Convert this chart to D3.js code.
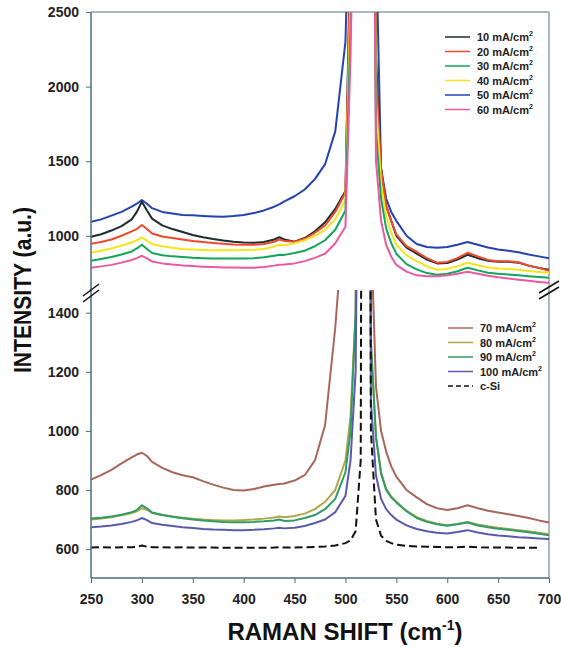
<!DOCTYPE html>
<html>
<head>
<meta charset="utf-8">
<script src="https://cdn.jsdelivr.net/npm/d3@7"></script>
<style>
  body { margin: 0; background: #fff; }
  svg { font-family: "Liberation Sans", Arial, sans-serif; }
  .tick text { font-size: 14px; font-weight: bold; fill: #222; }
  .tick line { stroke: #4f6d7a; }
</style>
</head>
<body>
<svg id="chart" width="561" height="647"></svg>
<script>
// raman shift grid (cm-1), shared by every spectrum
const shift = [250, 260, 270, 280, 290, 295, 300, 305, 310, 320, 330, 340, 350, 360, 370, 380, 390, 400,
  410, 420, 430, 435, 440, 450, 460, 470, 480, 490, 500, 505, 510, 515, 520, 525, 530, 535, 540, 545, 550,
  560, 570, 580, 590, 600, 610, 620, 630, 640, 650, 660, 670, 680, 690, 700];

// upper panel (10 - 60 mA/cm2)
const i10 = [993, 1010, 1035, 1065, 1110, 1160, 1228, 1170, 1115, 1070, 1045, 1025, 1005, 990, 978, 968, 960, 955,
  953, 958, 975, 990, 975, 960, 985, 1030, 1090, 1180, 1300, 3000, 5000, 7000, 9000, 6000, 2200, 1450, 1200, 1100, 1000,
  920, 880, 840, 815, 818, 840, 873, 850, 832, 826, 826, 820, 800, 785, 772];
const i20 = [946, 958, 975, 1000, 1030, 1045, 1072, 1045, 1015, 995, 985, 975, 965, 958, 952, 946, 942, 940,
  940, 945, 960, 975, 965, 960, 980, 1020, 1070, 1160, 1290, 2900, 5000, 7000, 9000, 6000, 2100, 1450, 1200, 1100, 1010,
  930, 893, 850, 820, 825, 850, 886, 862, 838, 830, 830, 823, 800, 785, 766];
const i30 = [833, 845, 858, 875, 895, 915, 940, 912, 885, 870, 862, 857, 852, 850, 848, 847, 847, 848,
  850, 856, 866, 873, 872, 885, 900, 930, 970, 1040, 1170, 2400, 4500, 7000, 9000, 6000, 1700, 1250, 1050, 950, 880,
  810, 775, 750, 739, 745, 762, 786, 768, 752, 745, 740, 735, 729, 724, 719];
const i40 = [886, 900, 915, 935, 955, 970, 987, 968, 945, 930, 920, 912, 908, 905, 903, 903, 903, 905,
  907, 912, 928, 940, 937, 950, 970, 1000, 1040, 1110, 1240, 2600, 4800, 7000, 9000, 6000, 1900, 1350, 1130, 1020, 940,
  870, 830, 795, 772, 778, 795, 819, 802, 788, 780, 778, 772, 764, 758, 752];
const i50 = [1094, 1110, 1135, 1160, 1195, 1215, 1240, 1215, 1185, 1160, 1150, 1140, 1137, 1133, 1130, 1128, 1132, 1140,
  1152, 1170, 1195, 1210, 1230, 1265, 1310, 1380, 1480, 1700, 2300, 3500, 5500, 7000, 9000, 6000, 3000, 1450, 1250, 1160, 1100,
  1000, 945, 925, 920, 925, 940, 958, 940, 922, 908, 900, 890, 875, 862, 850];
const i60 = [786, 795, 805, 820, 838, 850, 866, 848, 828, 815, 807, 801, 797, 793, 790, 788, 787, 786,
  786, 790, 800, 806, 808, 815, 830, 852, 880, 950, 1060, 2200, 4000, 7000, 9000, 6000, 1500, 1100, 940, 860, 805,
  760, 735, 728, 728, 735, 745, 759, 745, 732, 722, 713, 706, 698, 691, 685];

// lower panel (70 - 100 mA/cm2 and c-Si reference)
const i70 = [835, 850, 868, 890, 910, 920, 926, 915, 895, 875, 860, 850, 843, 830, 818, 808, 800, 798,
  803, 812, 818, 820, 822, 832, 850, 900, 1020, 1350, 1800, 2500, 4000, 6000, 8000, 1700, 1150, 1000, 930, 880, 845,
  800, 775, 752, 738, 732, 738, 748, 738, 730, 724, 718, 712, 705, 697, 690];
const i80 = [700, 703, 708, 714, 722, 728, 738, 733, 722, 715, 710, 706, 703, 700, 698, 697, 697, 698,
  700, 703, 707, 710, 708, 712, 720, 735, 760, 800, 900, 1050, 1400, 4000, 8000, 1300, 980, 860, 805, 778, 760,
  730, 708, 695, 686, 681, 685, 692, 683, 677, 672, 668, 664, 660, 655, 650];
const i90 = [703, 706, 710, 716, 725, 732, 748, 738, 724, 715, 709, 704, 700, 697, 694, 692, 691, 691,
  692, 694, 697, 700, 695, 697, 705, 715, 735, 770, 860, 1000, 1400, 4000, 8000, 1300, 980, 855, 800, 775, 758,
  728, 705, 692, 684, 679, 684, 690, 680, 674, 669, 665, 661, 657, 652, 647];
const i100 = [674, 676, 680, 685, 692, 697, 705, 698, 688, 682, 678, 674, 671, 668, 666, 665, 664, 664,
  665, 667, 670, 672, 670, 672, 678, 688, 700, 725, 780, 900, 1200, 3000, 8000, 1100, 850, 770, 735, 715, 700,
  680, 668, 660, 655, 653, 658, 664, 656, 650, 646, 643, 640, 638, 636, 634];
const iSi = [605, 606, 605, 606, 606, 607, 612, 608, 606, 606, 605, 606, 605, 605, 605, 604, 604, 604,
  604, 604, 605, 606, 605, 605, 606, 607, 609, 612, 620, 630, 660, 900, 8000, 1000, 700, 645, 628, 620, 615,
  611, 609, 608, 607, 606, 606, 608, 606, 605, 605, 605, 604, 604, 604, null];

const upperLabels = ['10 mA/cm', '20 mA/cm', '30 mA/cm', '40 mA/cm', '50 mA/cm', '60 mA/cm'];
const upperColors = ['#1d2b33', '#f0492c', '#13a55a', '#f3e520', '#2443b0', '#ea5aa0'];
const lowerLabels = ['70 mA/cm', '80 mA/cm', '90 mA/cm', '100 mA/cm', 'c-Si'];
const lowerColors = ['#a8675a', '#b3a548', '#2f9c66', '#5a5aab', '#111'];

const upperTicks = [1000, 1500, 2000, 2500];
const lowerTicks = [600, 800, 1000, 1200, 1400];
const xTicks = [250, 300, 350, 400, 450, 500, 550, 600, 650, 700];

const svg = d3.select('#chart');
const pLeft = 91, pRight = 549, pTop = 12, pBottom = 578;
const breakTop = 288, breakBottom = 290;

let x = d3.scaleLinear().domain([250, 700]).range([pLeft, pRight]);
let yUp = d3.scaleLinear().domain([650, 2500]).range([breakTop, pTop]);
let yLow = d3.scaleLinear().domain([502, 1477]).range([pBottom, breakBottom]);

// clip regions for the two panels
let defs = svg.append('defs');
defs.append('clipPath').attr('id', 'clipUp').append('rect')
  .attr('x', pLeft).attr('y', pTop).attr('width', pRight - pLeft).attr('height', breakTop - pTop);
defs.append('clipPath').attr('id', 'clipLow').append('rect')
  .attr('x', pLeft).attr('y', breakBottom).attr('width', pRight - pLeft).attr('height', pBottom - breakBottom);

// frame
svg.append('line').attr('x1', pLeft).attr('x2', pRight).attr('y1', pTop).attr('y2', pTop)
  .attr('stroke', '#8ea2ab').attr('stroke-width', 1.5);
svg.append('line').attr('x1', pRight).attr('x2', pRight).attr('y1', pTop).attr('y2', pBottom)
  .attr('stroke', '#8ea2ab').attr('stroke-width', 1.5);

function drawSeries(series, colors, yScale, clip, dashedLast) {
  let g = svg.append('g').attr('clip-path', `url(#${clip})`);
  series.forEach(function(vals, i) {
    let line = d3.line()
      .defined(d => d[1] != null)
      .x(d => x(d[0]))
      .y(d => yScale(d[1]));
    g.append('path')
      .datum(shift.map((s, k) => [s, vals[k]]))
      .attr('d', line)
      .attr('fill', 'none')
      .attr('stroke', colors[i])
      .attr('stroke-width', 2)
      .attr('stroke-linejoin', 'round')
      .attr('stroke-dasharray', dashedLast && i === series.length - 1 ? '8,4' : null);
  });
}

// draw order: lowest curves last so they sit on top like the original
drawSeries([i50, i10, i20, i40, i30, i60], ['#2443b0', '#1d2b33', '#f0492c', '#f3e520', '#13a55a', '#ea5aa0'], yUp, 'clipUp', false);
drawSeries([i70, i80, i90, i100, iSi], lowerColors, yLow, 'clipLow', true);

// axes
let fmt = d3.format('d');
let ax = svg.append('g').attr('transform', `translate(0,${pBottom})`)
  .call(d3.axisBottom(x).tickValues(xTicks).tickFormat(fmt).tickSize(5).tickSizeOuter(0).tickPadding(11));
let ayUp = svg.append('g').attr('transform', `translate(${pLeft},0)`)
  .call(d3.axisLeft(yUp).tickValues(upperTicks).tickFormat(fmt).tickSize(5).tickSizeOuter(0).tickPadding(7));
let ayLow = svg.append('g').attr('transform', `translate(${pLeft},0)`)
  .call(d3.axisLeft(yLow).tickValues(lowerTicks).tickFormat(fmt).tickSize(5).tickSizeOuter(0).tickPadding(7));
[ax, ayUp, ayLow].forEach(a => a.select('.domain').remove());

svg.append('line').attr('x1', pLeft).attr('x2', pLeft).attr('y1', pTop).attr('y2', pBottom)
  .attr('stroke', '#4f6d7a').attr('stroke-width', 1.5);
svg.append('line').attr('x1', pLeft).attr('x2', pRight).attr('y1', pBottom).attr('y2', pBottom)
  .attr('stroke', '#4f6d7a').attr('stroke-width', 1.5);

// axis break marks
function breakMark(cx, cy, w) {
  [-3, 3].forEach(function(off) {
    svg.append('line')
      .attr('x1', cx - w).attr('y1', cy + off + 6)
      .attr('x2', cx + w).attr('y2', cy + off - 6)
      .attr('stroke', '#111').attr('stroke-width', 1.5);
  });
}
breakMark(pLeft, 293, 8);
breakMark(pRight, 290, 10);

// legends
function legend(labels, colors, lx, ly, dashedLast) {
  labels.forEach(function(lab, i) {
    let yy = ly + i * 14.5;
    svg.append('line')
      .attr('x1', lx).attr('x2', lx + 25).attr('y1', yy).attr('y2', yy)
      .attr('stroke', colors[i]).attr('stroke-width', 1.5)
      .attr('stroke-dasharray', dashedLast && i === labels.length - 1 ? '5,3' : null);
    let t = svg.append('text')
      .attr('x', lx + 32).attr('y', yy + 4)
      .attr('font-size', 11).attr('font-weight', 'bold').attr('fill', '#222')
      .text(lab);
    if (lab.indexOf('mA') >= 0) {
      t.append('tspan').attr('dy', -5).attr('font-size', 7).text('2');
    }
  });
}
legend(upperLabels, upperColors, 445, 37, false);
legend(lowerLabels, lowerColors, 448, 328, true);

// axis titles
svg.append('text')
  .attr('transform', 'translate(31,290) rotate(-90)')
  .attr('text-anchor', 'middle')
  .attr('font-size', 24).attr('font-weight', 'bold').attr('fill', '#111')
  .attr('textLength', 166).attr('lengthAdjust', 'spacingAndGlyphs')
  .text('INTENSITY (a.u.)');

let xt = svg.append('text')
  .attr('x', 345).attr('y', 640)
  .attr('text-anchor', 'middle')
  .attr('font-size', 24).attr('font-weight', 'bold').attr('fill', '#111')
  .text('RAMAN SHIFT (cm');
xt.append('tspan').attr('dy', -10).attr('font-size', 14).text('-1');
xt.append('tspan').attr('dy', 10).text(')');
</script>
</body>
</html>
